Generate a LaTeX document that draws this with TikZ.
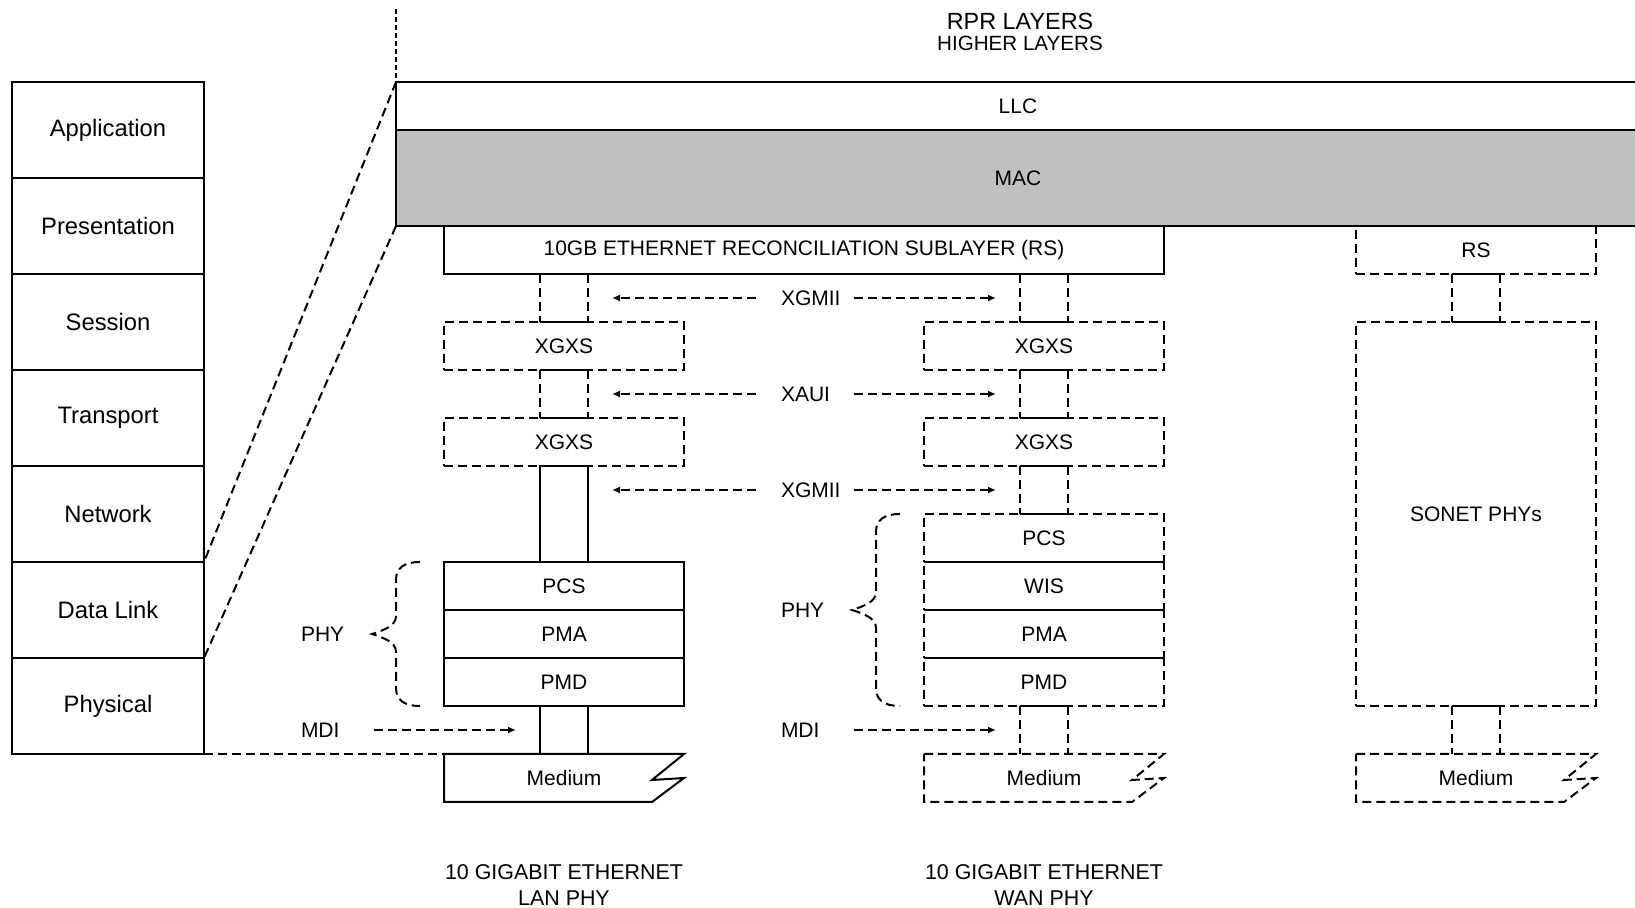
\documentclass[tikz,border=0pt]{standalone}
\usepackage{fontspec}
\setmainfont{Liberation Sans}
\usetikzlibrary{positioning,arrows.meta,calc}
\definecolor{MacGray}{HTML}{C0C0C0}

\begin{document}
\begin{tikzpicture}[
    x=0.5pt, y=-0.5pt,
    line width=1pt,
    node distance=0pt,
    osibox/.style={
      draw,
      minimum width=96pt,
      minimum height=48pt,
      inner sep=0pt,
      outer sep=0pt,
      font=\fontsize{11.9}{14}\selectfont
    },
    layerbox/.style={
      draw,
      minimum width=120pt,
      minimum height=24pt,
      inner sep=0pt,
      outer sep=0pt,
      font=\fontsize{10.5}{12.6}\selectfont
    },
    optbox/.style={
      layerbox,
      dashline
    },
    dashline/.style={
      dash pattern=on 4.5pt off 2.5pt
    },
    link/.style={
      minimum width=24pt,
      minimum height=24pt,
      inner sep=0pt,
      outer sep=0pt
    },
    siglabel/.style={
      anchor=west,
      inner sep=0pt,
      text width=36pt,
      align=left,
      font=\fontsize{10.5}{12.6}\selectfont
    },
    sigarrow/.style={
      -{Latex[length=4pt,width=3.5pt]},
      dashline
    }
  ]
  \useasboundingbox (0,0) rectangle (1635,908);

  % OSI reference model
  \node[osibox, anchor=north west] (app) at (12,82) {Application};
  \node[osibox, below=of app] (pres) {Presentation};
  \node[osibox, below=of pres] (sess) {Session};
  \node[osibox, below=of sess] (trans) {Transport};
  \node[osibox, below=of trans] (net) {Network};
  \node[osibox, below=of net] (datalink) {Data Link};
  \node[osibox, below=of datalink] (physical) {Physical};

  % RPR layers
  \node[font=\fontsize{11.7}{14}\selectfont] (rpr) at (1020,21) {RPR LAYERS};
  \node[font=\fontsize{10.3}{12}\selectfont] (higher) at (1020,43) {HIGHER LAYERS};
  \node[layerbox, anchor=north west, minimum width=622pt] (llc) at (396,82) {LLC};
  \node[layerbox, below=of llc, minimum width=622pt, minimum height=48pt, fill=MacGray] (mac) {MAC};
  \node[layerbox, anchor=north west, minimum width=360pt] (lanrs) at (444,226) {10GB ETHERNET RECONCILIATION SUBLAYER (RS)};
  \node[optbox, anchor=north west] (sonrs) at (1356,226) {RS};

  % LAN PHY
  \node[link, below right=0pt and 48pt of lanrs.south west] (lanl1) {};
  \node[optbox, below=of lanl1] (lanxa) {XGXS};
  \node[link, below=of lanxa] (lanl2) {};
  \node[optbox, below=of lanl2] (lanxb) {XGXS};
  \node[link, draw, minimum height=48pt, below=of lanxb] (lanl3) {};
  \node[layerbox, below=of lanl3] (lanpcs) {PCS};
  \node[layerbox, below=of lanpcs] (lanpma) {PMA};
  \node[layerbox, below=of lanpma] (lanpmd) {PMD};
  \node[link, draw, below=of lanpmd] (lanl4) {};
  \node[layerbox, draw=none, below=of lanl4] (lanmed) {Medium};

  % WAN PHY
  \node[link, below left=0pt and 48pt of lanrs.south east] (wanl1) {};
  \node[optbox, below=of wanl1] (wanxa) {XGXS};
  \node[link, below=of wanxa] (wanl2) {};
  \node[optbox, below=of wanl2] (wanxb) {XGXS};
  \node[link, below=of wanxb] (wanl3) {};
  \node[optbox, below=of wanl3] (wanpcs) {PCS};
  \node[optbox, below=of wanpcs] (wanwis) {WIS};
  \node[optbox, below=of wanwis] (wanpma) {PMA};
  \node[optbox, below=of wanpma] (wanpmd) {PMD};
  \node[link, below=of wanpmd] (wanl4) {};
  \node[layerbox, draw=none, below=of wanl4] (wanmed) {Medium};

  % SONET
  \node[link, below=of sonrs] (sonl1) {};
  \node[optbox, minimum height=192pt, below=of sonl1] (sonphy) {SONET PHYs};
  \node[link, below=of sonphy] (sonl2) {};
  \node[layerbox, draw=none, below=of sonl2] (sonmed) {Medium};

  % optional links
  \foreach \lk in {lanl1,lanl2,wanl1,wanl2,wanl3,sonl1,wanl4,sonl2} {
    \draw[dashline] (\lk.north west) -- (\lk.south west) (\lk.north east) -- (\lk.south east);
    \draw (\lk.north west) -- (\lk.north east);
  }
  \foreach \lk in {lanl1,lanl2,wanl1,wanl2,wanl3,sonl1}
    \draw (\lk.south west) -- (\lk.south east);
  \foreach \lk in {wanpcs,wanwis,wanpma}
    \draw (\lk.south west) -- (\lk.south east);

  % media
  \draw (lanmed.north west) -- (lanmed.north east) -- ++(-32,26) -- ++(32,-2) -- ++(-32,24) -- (lanmed.south west) -- cycle;
  \draw[dashline] (wanmed.north west) -- (wanmed.north east) -- ++(-32,26) -- ++(32,-2) -- ++(-32,24) -- (wanmed.south west) -- cycle;
  \draw[dashline] (sonmed.north west) -- (sonmed.north east) -- ++(-32,26) -- ++(32,-2) -- ++(-32,24) -- (sonmed.south west) -- cycle;

  % interfaces
  \node[siglabel] (xgmiia) at (780,298) {XGMII};
  \node[siglabel] (xaui) at (780,394) {XAUI};
  \node[siglabel] (xgmiib) at (780,490) {XGMII};
  \node[siglabel] (lanmdi) at (300,730) {MDI};
  \node[siglabel] (wanmdi) at (780,730) {MDI};
  \node[siglabel] (lanphy) at (300,634) {PHY};
  \node[siglabel] (wanphy) at (780,610) {PHY};

  \draw[sigarrow] ([xshift=-12pt]xgmiia.west) -- ($(lanl1.east |- xgmiia.west)+(12pt,0pt)$);
  \draw[sigarrow] (xgmiia.east) -- ($(wanl1.west |- xgmiia.east)+(-12pt,0pt)$);
  \draw[sigarrow] ([xshift=-12pt]xaui.west) -- ($(lanl2.east |- xaui.west)+(12pt,0pt)$);
  \draw[sigarrow] (xaui.east) -- ($(wanl2.west |- xaui.east)+(-12pt,0pt)$);
  \draw[sigarrow] ([xshift=-12pt]xgmiib.west) -- ($(lanl3.east |- xgmiib.west)+(12pt,0pt)$);
  \draw[sigarrow] (xgmiib.east) -- ($(wanl3.west |- xgmiib.east)+(-12pt,0pt)$);
  \draw[sigarrow] (lanmdi.east) -- ($(lanl4.west |- lanmdi.east)+(-12pt,0pt)$);
  \draw[sigarrow] (wanmdi.east) -- ($(wanl4.west |- wanmdi.east)+(-12pt,0pt)$);

  % PHY braces
  \draw[dashline] (420,562) .. controls (404,562) and (396,568) .. (396,580) -- (396,616)
    .. controls (396,626) and (384,630) .. (372,634) .. controls (384,638) and (396,642) .. (396,652)
    -- (396,688) .. controls (396,700) and (404,706) .. (420,706);
  \draw[dashline] (900,514) .. controls (884,514) and (876,520) .. (876,532) -- (876,592)
    .. controls (876,602) and (864,606) .. (852,610) .. controls (864,614) and (876,618) .. (876,628)
    -- (876,688) .. controls (876,700) and (884,706) .. (900,706);

  % zoom lines
  \coordinate (zoomtop) at (396,9);
  \draw[dash pattern=on 2.5pt off 1.5pt] (zoomtop) -- (llc.north west);
  \draw[dashline] (llc.north west) -- (datalink.north east);
  \draw[dashline] (mac.south west) -- (datalink.south east);
  \draw[dashline] (physical.south east) -- (lanmed.north west);

  % captions
  \node[align=center, font=\fontsize{10.7}{13}\selectfont] (lanname) at (564,885) {10 GIGABIT ETHERNET\\LAN PHY};
  \node[align=center, font=\fontsize{10.7}{13}\selectfont] (wanname) at (1044,885) {10 GIGABIT ETHERNET\\WAN PHY};
\end{tikzpicture}
\end{document}
